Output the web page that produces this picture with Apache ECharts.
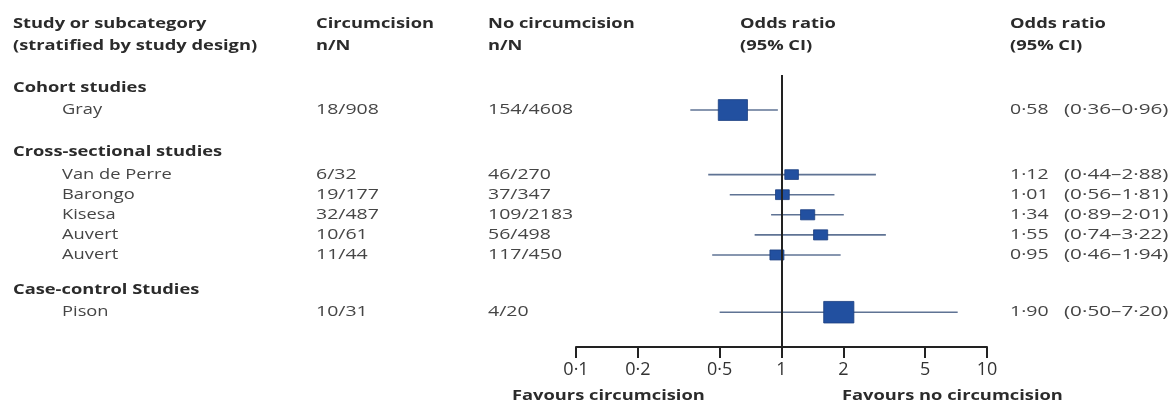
<!DOCTYPE html>
<html><head><meta charset="utf-8">
<script src="https://cdn.jsdelivr.net/npm/echarts@6/dist/echarts.min.js"></script>
<style>html,body{margin:0;padding:0;background:#fff}#c{width:1170px;height:405px}</style>
</head><body><div id="c"></div>
<script>
// ---------- data ----------
const groupNames = ['Cohort studies', 'Cross-sectional studies', 'Case-control Studies'];
const studyNames = ['Gray', 'Van de Perre', 'Barongo', 'Kisesa', 'Auvert', 'Auvert', 'Pison'];
const studyGroup = [0, 1, 1, 1, 1, 1, 2];
const circumcision = ['18/908', '6/32', '19/177', '32/487', '10/61', '11/44', '10/31'];
const noCircumcision = ['154/4608', '46/270', '37/347', '109/2183', '56/498', '117/450', '4/20'];
const oddsRatio = [0.58, 1.12, 1.01, 1.34, 1.55, 0.95, 1.90];
const ciLow = [0.36, 0.44, 0.56, 0.89, 0.74, 0.46, 0.50];
const ciHigh = [0.96, 2.88, 1.81, 2.01, 3.22, 1.94, 7.20];
const studyWeight = [609, 133, 135, 144, 143, 140, 651]; // relative box area
const xTicks = [0.1, 0.2, 0.5, 1, 2, 5, 10];
const headerLine1 = ['Study or subcategory', 'Circumcision', 'No circumcision', 'Odds ratio', 'Odds ratio'];
const headerLine2 = ['(stratified by study design)', 'n/N', 'n/N', '(95% CI)', '(95% CI)'];
const favoursLabels = ['Favours circumcision', 'Favours no circumcision'];

// ---------- layout ----------
const FONT = '"Open Sans", sans-serif';
const SX = 1.22;                      // horizontal text stretch
const SX_NUM = 1.3;                   // stretch for numeric columns
const COL_X = [13, 316, 488, 740, 1010];
const STUDY_X = 62, CI_X = 1064;
const GROUP_GAP = [0.616, 2.07, 1.71];
const HEAD_TO_STUDY = 1.11, STUDY_STEP = 0.99;
const Y_MAX = 13.4;
const BOX_ASPECT = Math.sqrt(1.4);

const fmt = v => v.toFixed(2).replace('.', '\u00b7');

const rows = [];
let u = 0;
groupNames.forEach((g, gi) => {
  u += GROUP_GAP[gi];
  rows.push({ type: 'head', gi: gi, u: u });
  u += HEAD_TO_STUDY - STUDY_STEP;
  studyNames.forEach((s, si) => {
    if (studyGroup[si] !== gi) return;
    u += STUDY_STEP;
    rows.push({ type: 'study', si: si, u: u });
  });
});
const seriesData = rows.map((r, i) => [r.type === 'study' ? oddsRatio[r.si] : 1, r.u, i]);

function txt(x, y, text, bold, color, sx) {
  return {
    type: 'text', x: x, y: y, scaleX: sx || SX,
    style: { text: text, font: (bold ? 'bold ' : '') + '15px ' + FONT, fill: color, verticalAlign: 'middle', align: 'left' }
  };
}

function renderItem(params, api) {
  const r = rows[api.value(2)];
  const y = api.coord([1, r.u])[1];
  if (r.type === 'head') {
    return txt(COL_X[0], y, groupNames[r.gi], true, '#2b2b2b');
  }
  const i = r.si;
  const pL = api.coord([ciLow[i], r.u]);
  const pH = api.coord([ciHigh[i], r.u]);
  const pC = api.coord([oddsRatio[i], r.u]);
  const side = Math.sqrt(studyWeight[i]);
  const w = side * BOX_ASPECT, h = side / BOX_ASPECT;
  return {
    type: 'group',
    children: [
      { type: 'line', shape: { x1: pL[0], y1: y, x2: pH[0], y2: y }, style: { stroke: '#5f7394', lineWidth: 1.6 } },
      { type: 'rect', shape: { x: pC[0] - w / 2, y: y - h / 2, width: w, height: h }, style: { fill: '#2250a0', stroke: '#1c3f80', lineWidth: 0.8 } },
      txt(STUDY_X, y, studyNames[i], false, '#454545'),
      txt(COL_X[1], y, circumcision[i], false, '#454545', SX_NUM),
      txt(COL_X[2], y, noCircumcision[i], false, '#454545', SX_NUM),
      txt(COL_X[4], y, fmt(oddsRatio[i]), false, '#454545', SX_NUM),
      txt(CI_X, y, '(' + fmt(ciLow[i]) + '\u2013' + fmt(ciHigh[i]) + ')', false, '#454545', 1.38)
    ]
  };
}

const graphics = [];
COL_X.forEach((x, k) => {
  graphics.push({ type: 'text', x: x, y: 24, scaleX: SX, style: { text: headerLine1[k], font: 'bold 15px ' + FONT, fill: '#2b2b2b', verticalAlign: 'middle' } });
  graphics.push({ type: 'text', x: x, y: 46, scaleX: SX, style: { text: headerLine2[k], font: 'bold 15px ' + FONT, fill: '#2b2b2b', verticalAlign: 'middle' } });
});
graphics.push({ type: 'text', x: 512, y: 396, scaleX: SX, style: { text: favoursLabels[0], font: 'bold 15px ' + FONT, fill: '#2b2b2b', verticalAlign: 'middle' } });
graphics.push({ type: 'text', x: 842, y: 396, scaleX: SX, style: { text: favoursLabels[1], font: 'bold 15px ' + FONT, fill: '#2b2b2b', verticalAlign: 'middle' } });

const chart = echarts.init(document.getElementById('c'), null, { renderer: 'canvas' });
chart.setOption({
  animation: false,
  backgroundColor: '#ffffff',
  grid: { left: 576, right: 1170 - 987, top: 75, bottom: 405 - 347, containLabel: false },
  xAxis: {
    type: 'log', logBase: 10, min: 0.1, max: 10, position: 'bottom',
    splitLine: { show: false },
    axisLine: { show: true, onZero: false, lineStyle: { color: '#222', width: 2 } },
    axisTick: { show: true, customValues: xTicks, length: 11, inside: false, lineStyle: { color: '#222', width: 2 } },
    minorTick: { show: false },
    axisLabel: {
      customValues: xTicks, margin: 14, color: '#333', fontSize: 18, fontFamily: FONT,
      formatter: v => String(v).replace('.', '\u00b7')
    }
  },
  yAxis: { type: 'value', inverse: true, min: 0, max: Y_MAX, show: false },
  graphic: graphics,
  series: [{
    type: 'custom', clip: false, renderItem: renderItem,
    encode: { x: 0, y: 1 },
    data: seriesData,
    markLine: {
      silent: true, symbol: 'none', label: { show: false },
      lineStyle: { color: '#222', width: 2, type: 'solid' },
      data: [{ xAxis: 1 }]
    }
  }]
});
</script></body></html>
